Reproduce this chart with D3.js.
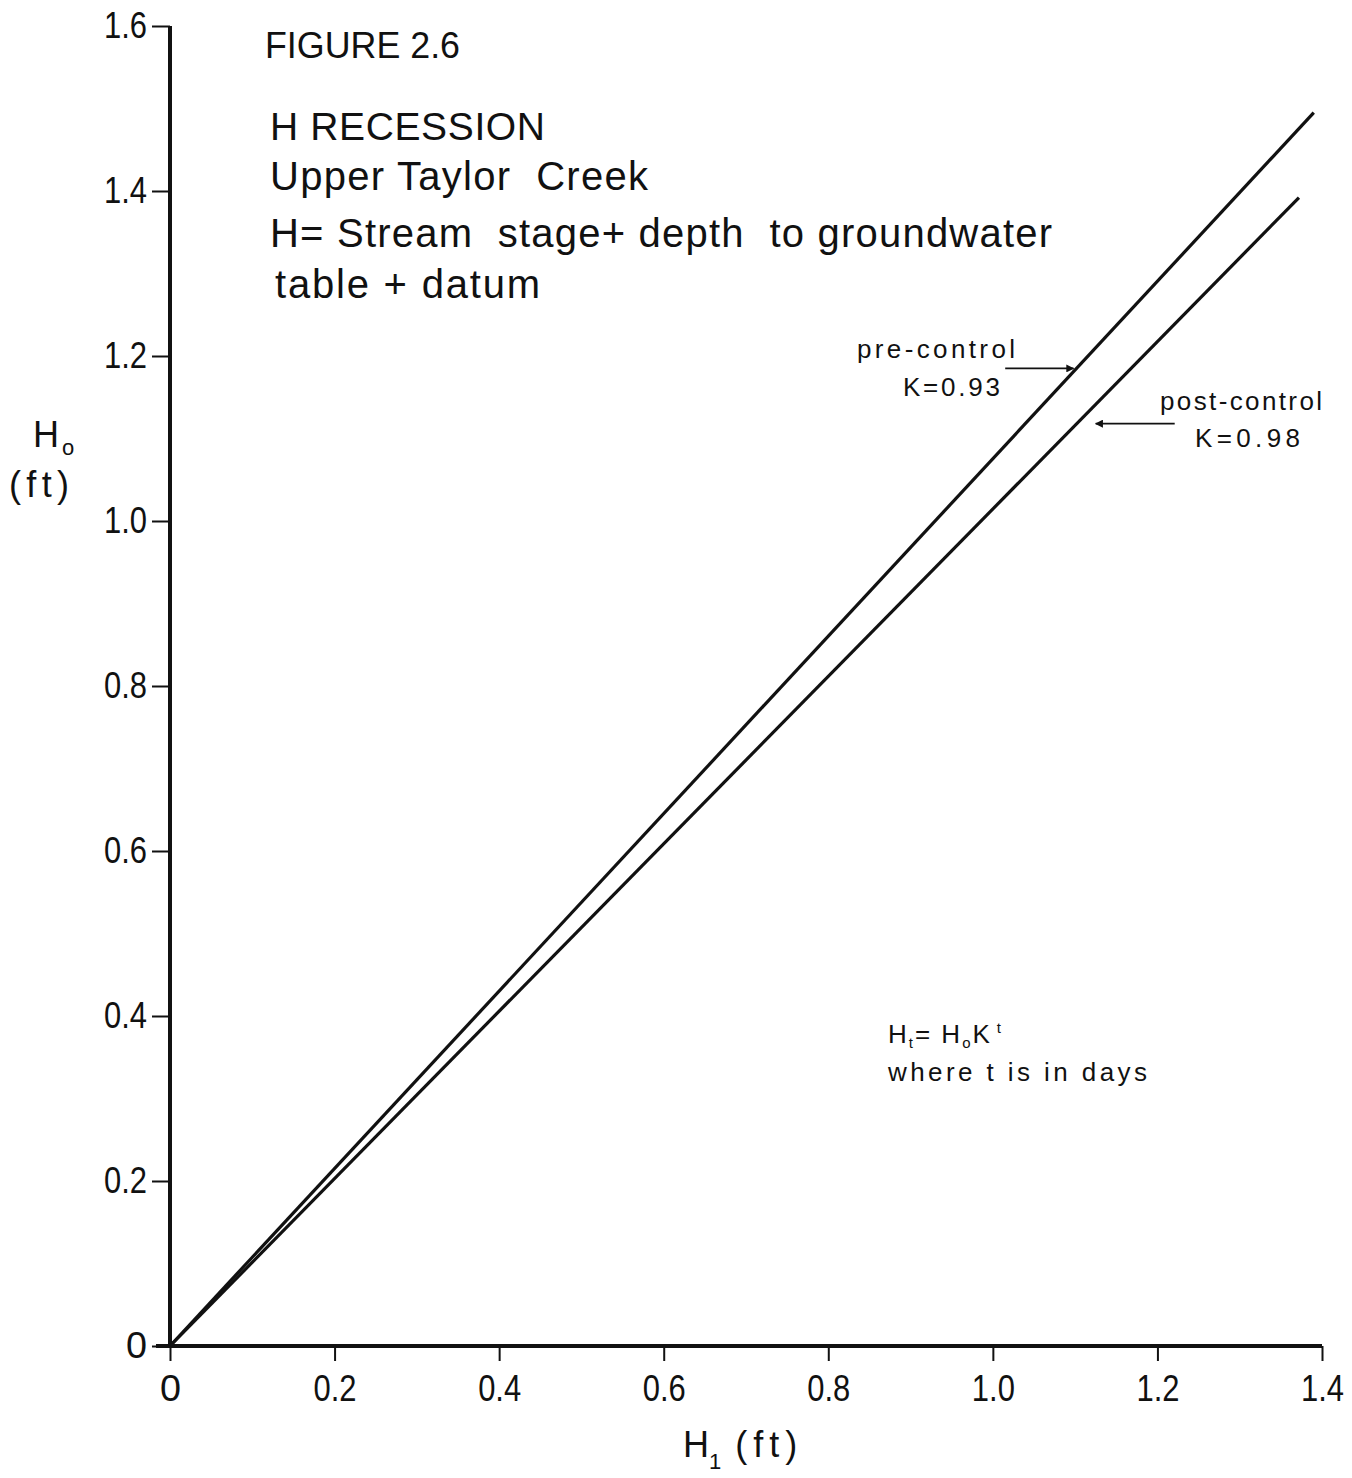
<!DOCTYPE html>
<html>
<head>
<meta charset="utf-8">
<script src="https://cdn.jsdelivr.net/npm/d3@7/dist/d3.min.js"></script>
<style>
  html, body { margin: 0; padding: 0; background: #fff; }
  svg { display: block; }
  .lettering { font-family: "Liberation Sans", "DejaVu Sans", sans-serif; fill: #111; }
  .ticklab { font-family: "Liberation Sans", "DejaVu Sans", sans-serif; fill: #111; }
</style>
</head>
<body>
<script>
// Recession lines: H1 (ft) on x, H0 (ft) on y
const preControlH1 = [0, 1.39];
const preControlH0 = [0, 1.495];
const postControlH1 = [0, 1.372];
const postControlH0 = [0, 1.392];

const xTickValues = [0, 0.2, 0.4, 0.6, 0.8, 1.0, 1.2, 1.4];
const xTickLabels = ["0", "0.2", "0.4", "0.6", "0.8", "1.0", "1.2", "1.4"];
const yTickValues = [0, 0.2, 0.4, 0.6, 0.8, 1.0, 1.2, 1.4, 1.6];
const yTickLabels = ["0", "0.2", "0.4", "0.6", "0.8", "1.0", "1.2", "1.4", "1.6"];

const titleLines = ["H RECESSION", "Upper Taylor  Creek", "H= Stream  stage+ depth  to groundwater", "table + datum"];

const W = 1352, H = 1478;
const margin = { left: 170, top: 26, right: 30, bottom: 132 };

const svg = d3.select("body").append("svg").attr("width", W).attr("height", H);

const x = d3.scaleLinear().domain([0, 1.4]).range([margin.left, 1322]);
const y = d3.scaleLinear().domain([0, 1.6]).range([1346, margin.top]);

// Axes
const yAxis = d3.axisLeft(y)
  .tickValues(yTickValues)
  .tickSize(18)
  .tickPadding(5)
  .tickFormat((d, i) => yTickLabels[i]);
const xAxis = d3.axisBottom(x)
  .tickValues(xTickValues)
  .tickSize(15)
  .tickPadding(14)
  .tickFormat((d, i) => xTickLabels[i]);

const gy = svg.append("g").attr("transform", `translate(${x(0)},0)`).call(yAxis);
const gx = svg.append("g").attr("transform", `translate(0,${y(0)})`).call(xAxis);

[gx, gy].forEach(g => {
  g.select(".domain").attr("stroke", "#111").attr("stroke-width", 4);
  g.selectAll(".tick line").attr("stroke", "#111").attr("stroke-width", 2);
  g.selectAll(".tick text")
    .attr("class", "ticklab")
    .attr("font-size", 36)
    .attr("fill", "#111")
    .attr("lengthAdjust", "spacingAndGlyphs")
    .attr("textLength", (d, i, n) => n[i].textContent.length > 1 ? 43 : 21);
});
// axis lines without the outer end stubs
gy.select(".domain").attr("d", `M0,${y(1.6)}V${y(0)}`);
gx.select(".domain").attr("d", `M${x(0) - 14},0H${x(1.4)}`);

// Recession lines
const line = d3.line().x(d => x(d[0])).y(d => y(d[1]));
const series = [
  { name: "pre-control", pts: d3.zip(preControlH1, preControlH0) },
  { name: "post-control", pts: d3.zip(postControlH1, postControlH0) }
];
svg.append("g").selectAll("path").data(series).join("path")
  .attr("d", d => line(d.pts))
  .attr("fill", "none")
  .attr("stroke", "#111")
  .attr("stroke-width", 3.2);

// Heading block
svg.append("text").attr("class", "ticklab")
  .attr("x", 265).attr("y", 58)
  .attr("font-size", 36)
  .attr("lengthAdjust", "spacingAndGlyphs")
  .attr("textLength", 195)
  .text("FIGURE 2.6");

const headBase = [140, 190, 247, 298];
const headX = [270, 270, 270, 275];
const headSize = [39, 40, 40, 40];
const headLen = [275, 378, 782, 265];
titleLines.forEach((t, i) => {
  svg.append("text").attr("class", "lettering")
    .attr("x", headX[i]).attr("y", headBase[i])
    .attr("font-size", headSize[i])
    .attr("xml:space", "preserve")
    .style("white-space", "pre")
    .attr("lengthAdjust", "spacing")
    .attr("textLength", headLen[i])
    .text(t);
});

// Axis titles
const yl = svg.append("text").attr("class", "lettering").attr("x", 33).attr("y", 447).attr("font-size", 36);
yl.append("tspan").text("H");
yl.append("tspan").attr("font-size", 22).attr("dy", 8).attr("dx", 3).text("o");
svg.append("text").attr("class", "lettering").attr("x", 9).attr("y", 497).attr("font-size", 36)
  .attr("lengthAdjust", "spacing").attr("textLength", 60).text("(ft)");

const xl = svg.append("text").attr("class", "lettering").attr("x", 683).attr("y", 1457).attr("font-size", 36);
xl.append("tspan").text("H");
xl.append("tspan").attr("font-size", 22).attr("dy", 12).text("1");
xl.append("tspan").attr("dy", -12).attr("dx", 14).attr("letter-spacing", 6).text("(ft)");

// Line labels with pointer arrows
const defs = svg.append("defs");
defs.append("marker").attr("id", "head").attr("viewBox", "0 0 10 10")
  .attr("refX", 9).attr("refY", 5).attr("markerWidth", 12).attr("markerHeight", 8)
  .attr("markerUnits", "userSpaceOnUse").attr("orient", "auto")
  .append("path").attr("d", "M0,0L10,5L0,10Z").attr("fill", "#111");

const lineLabels = [
  { text: "pre-control", x0: 857, base: 358, len: 158 },
  { text: "K=0.93", x0: 903, base: 396, len: 97 },
  { text: "post-control", x0: 1160, base: 410, len: 162 },
  { text: "K=0.98", x0: 1195, base: 447, len: 105 }
];
svg.append("g").attr("class", "lettering").attr("font-size", 26)
  .selectAll("text").data(lineLabels).join("text")
  .attr("x", d => d.x0).attr("y", d => d.base)
  .attr("lengthAdjust", "spacing").attr("textLength", d => d.len)
  .text(d => d.text);

svg.append("line")
  .attr("x1", x(1.015)).attr("y1", y(1.185))
  .attr("x2", x(1.098)).attr("y2", y(1.185))
  .attr("stroke", "#111").attr("stroke-width", 1.6).attr("marker-end", "url(#head)");
svg.append("line")
  .attr("x1", x(1.221)).attr("y1", y(1.118))
  .attr("x2", x(1.125)).attr("y2", y(1.118))
  .attr("stroke", "#111").attr("stroke-width", 1.6).attr("marker-end", "url(#head)");

// Recession equation note
const eq = svg.append("g").attr("class", "lettering").attr("font-size", 26);
const e1 = eq.append("text").attr("x", 888).attr("y", 1043).attr("letter-spacing", 2);
e1.append("tspan").text("H");
e1.append("tspan").attr("font-size", 15).attr("dy", 5).text("t");
e1.append("tspan").attr("dy", -5).text("= H");
e1.append("tspan").attr("font-size", 15).attr("dy", 5).text("o");
e1.append("tspan").attr("dy", -5).text("K");
e1.append("tspan").attr("font-size", 15).attr("dy", -10).attr("dx", 5).text("t");
eq.append("text").attr("x", 888).attr("y", 1081)
  .attr("xml:space", "preserve").style("white-space", "pre")
  .attr("lengthAdjust", "spacing").attr("textLength", 259)
  .text("where t is in days");
</script>
</body>
</html>
